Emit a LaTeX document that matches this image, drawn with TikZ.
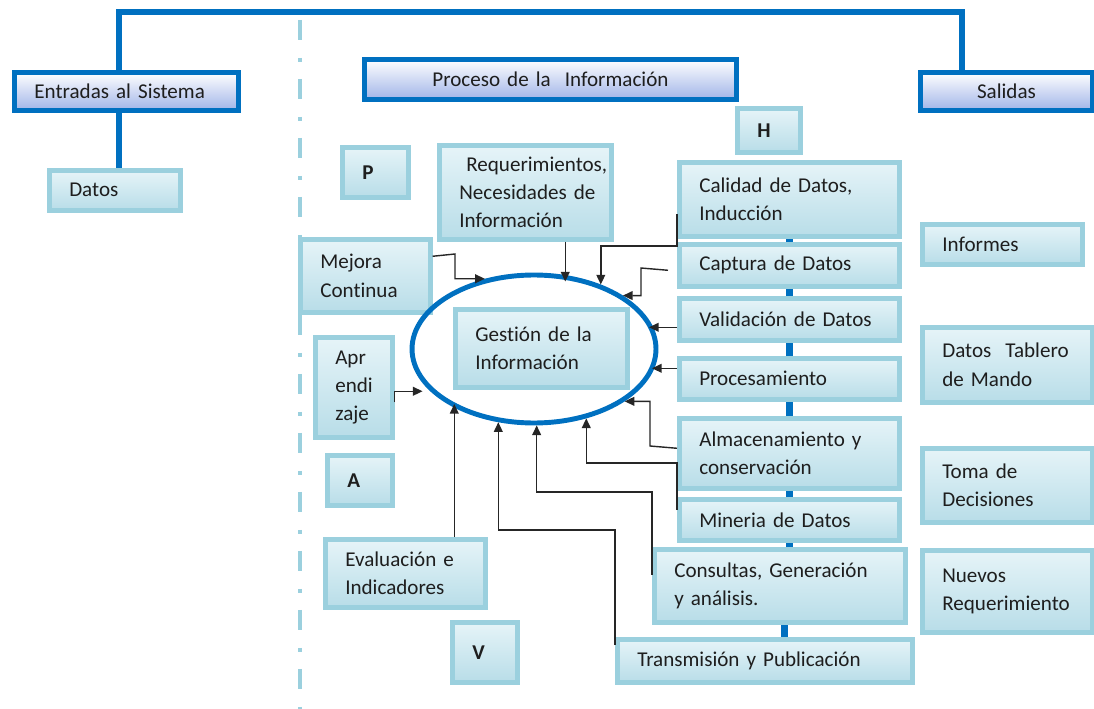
\documentclass[tikz,border=0pt]{standalone}
\usepackage{fontspec}
\setmainfont{Carlito}[Ligatures=NoCommon]
\usetikzlibrary{arrows.meta, shapes.geometric, backgrounds}
\definecolor{boxblue}{RGB}{0,112,192}
\definecolor{boxlav}{RGB}{160,180,232}
\definecolor{boxcyan}{RGB}{155,208,222}
\definecolor{boxtop}{RGB}{230,244,248}
\definecolor{boxbot}{RGB}{184,221,232}
\definecolor{inktext}{RGB}{30,30,30}
\tikzset{
  outbox/.style={draw=boxblue, line width=2.8pt, top color=white, bottom color=boxlav,
    anchor=north west, inner xsep=0.4cm, inner ysep=0pt, align=left, text=inktext},
  inbox/.style={draw=boxcyan, line width=2.6pt, top color=boxtop, bottom color=boxbot,
    anchor=north west, inner xsep=0.4cm, inner ysep=0pt, align=left, text=inktext},
  feed/.style={-{Triangle[length=5.5pt,width=5pt]}, line width=0.8pt, black!85},
  link/.style={draw=boxblue, line width=4pt},
  trunk/.style={draw=boxblue, line width=3.4pt}
}
\begin{document}
\begin{tikzpicture}[x=0.02cm, y=-0.02cm, font=\fontsize{12}{16}\selectfont]
\useasboundingbox (0,0) rectangle (1094,709);

\draw[boxcyan, line width=2.8pt, dash pattern=on 0.4cm off 0.36cm on 0.08cm off 0.34cm] (300,20) -- (300,709);

\node[outbox, text width=3.68cm, minimum height=0.76cm] (entradas) at (12,70) {Entradas~al~Sistema};
\node[outbox, text width=2.64cm, minimum height=0.76cm, align=center] (salidas) at (918,70) {Salidas};
\node[outbox, text width=6.64cm, minimum height=0.8cm, align=center] (proceso) at (362,57) {Proceso~de~la~~Información};

\node[inbox, text width=1.82cm, minimum height=0.8cm] (datos) at (47,168) {Datos};

\node[inbox, text width=0.52cm, minimum height=1.0cm] (planear) at (340,145) {\textbf{P}};
\node[inbox, text width=0.46cm, minimum height=0.88cm] (hacer) at (735,106) {\textbf{H}};
\node[inbox, text width=0.5cm, minimum height=1.0cm] (actuar) at (325,453) {\textbf{A}};
\node[inbox, text width=0.5cm, minimum height=1.2cm] (verificar) at (450,620) {\textbf{V}};

\node[inbox, text width=2.64cm, minimum height=1.88cm] (reque) at (437,143) {\mbox{~Requerimientos,}\\\mbox{Necesidades~de}\\Información};
\node[inbox, text width=1.8cm, minimum height=1.46cm] (mejora) at (298,237) {Mejora\\Continua};
\node[inbox, text width=0.74cm, minimum height=2.0cm] (aprende) at (313,335) {Apr\\endi\\zaje};
\node[inbox, text width=2.4cm, minimum height=1.36cm] (evalua) at (323,537) {Evaluación~e\\Indicadores};

\node[inbox, text width=3.6cm, minimum height=1.48cm] (calidad) at (677,160) {Calidad~de~Datos,\\Inducción};
\node[inbox, text width=3.6cm, minimum height=0.84cm] (captura) at (677,242) {Captura~de~Datos};
\node[inbox, text width=3.6cm, minimum height=0.84cm] (validacion) at (677,296) {Validación~de~Datos};
\node[inbox, text width=3.6cm, minimum height=0.82cm] (procesa) at (677,356) {Procesamiento};
\node[inbox, text width=3.6cm, minimum height=1.4cm] (almacen) at (677,416) {Almacenamiento~y\\conservación};
\node[inbox, text width=3.6cm, minimum height=0.82cm] (mineria) at (677,497) {Mineria~de~Datos};
\node[inbox, text width=4.22cm, minimum height=1.46cm] (consultas) at (652,547) {Consultas,~Generación\\y~análisis.};
\node[inbox, text width=5.1cm, minimum height=0.86cm] (transmision) at (615,637) {Transmisión~y~Publicación};

\node[inbox, text width=2.4cm, minimum height=0.8cm] (informes) at (920,222) {Informes};
\node[inbox, text width=2.6cm, minimum height=1.5cm] (tablero) at (920,325) {Datos~~Tablero\\de~Mando};
\node[inbox, text width=2.6cm, minimum height=1.48cm] (toma) at (920,446) {Toma~de\\Decisiones};
\node[inbox, text width=2.6cm, minimum height=1.64cm] (nuevos) at (920,548) {Nuevos\\Requerimiento};

\node[inbox, text width=2.64cm, minimum height=1.56cm] (gestion) at (453,307) {Gestión~de~la\\Información};
\node[draw=boxblue, line width=2.8pt, ellipse, minimum width=4.88cm, minimum height=2.96cm] (ciclo) at (534,349) {};

\begin{scope}[on background layer]
\draw[trunk] ([xshift=-0.14cm]entradas.north) -- ++(0,-58) -| ([xshift=-0.88cm]salidas.north);
\draw[trunk] ([xshift=-0.14cm]entradas.south) -- ([xshift=-0.14cm]entradas.south |- datos.north);
\foreach \a/\b in {calidad/captura, captura/validacion, validacion/procesa, procesa/almacen, almacen/mineria}
  \draw[link] (\a.south) -- (\b.north);
\draw[link] (mineria.south) -- (mineria.south |- consultas.north);
\draw[link] ([xshift=0.09cm]consultas.south) -- ([xshift=0.09cm]consultas.south |- transmision.north);
\end{scope}

\draw[feed] ([yshift=0.39cm]mejora.east) -- (455,254) |- (ciclo.125);
\draw[feed] ([xshift=0.8cm]reque.south) -- ++(0,40);
\draw[feed] ([yshift=-0.3cm]calidad.west) -- (677,246) -| (ciclo.44);
\draw[feed] ([xshift=-0.18cm,yshift=-0.1cm]captura.west) -- (641,268) |- (ciclo.31);
\draw[feed] ([yshift=-0.16cm]validacion.west) -- ++(-28,0);
\draw[feed] ([yshift=0.21cm]procesa.west) -- ++(-25,0);
\draw[feed] ([yshift=0.1cm]almacen.west) -- (650,446) |- (ciclo.330);
\draw[feed] ([yshift=-0.26cm]mineria.north west) -- (677,463) -| (ciclo.307);
\draw[feed] ([yshift=-0.56cm]consultas.north west) -- (652,492) -| (ciclo.272);
\draw[feed] ([yshift=-0.16cm]transmision.north west) -- (615,530) -| (ciclo.244);
\draw[feed] ([xshift=0.98cm]evalua.north) -- ++(0,-133);
\draw[feed] ([yshift=-0.3cm]aprende.east) -- ++(0,-11) -- ++(28,0);
\end{tikzpicture}
\end{document}
